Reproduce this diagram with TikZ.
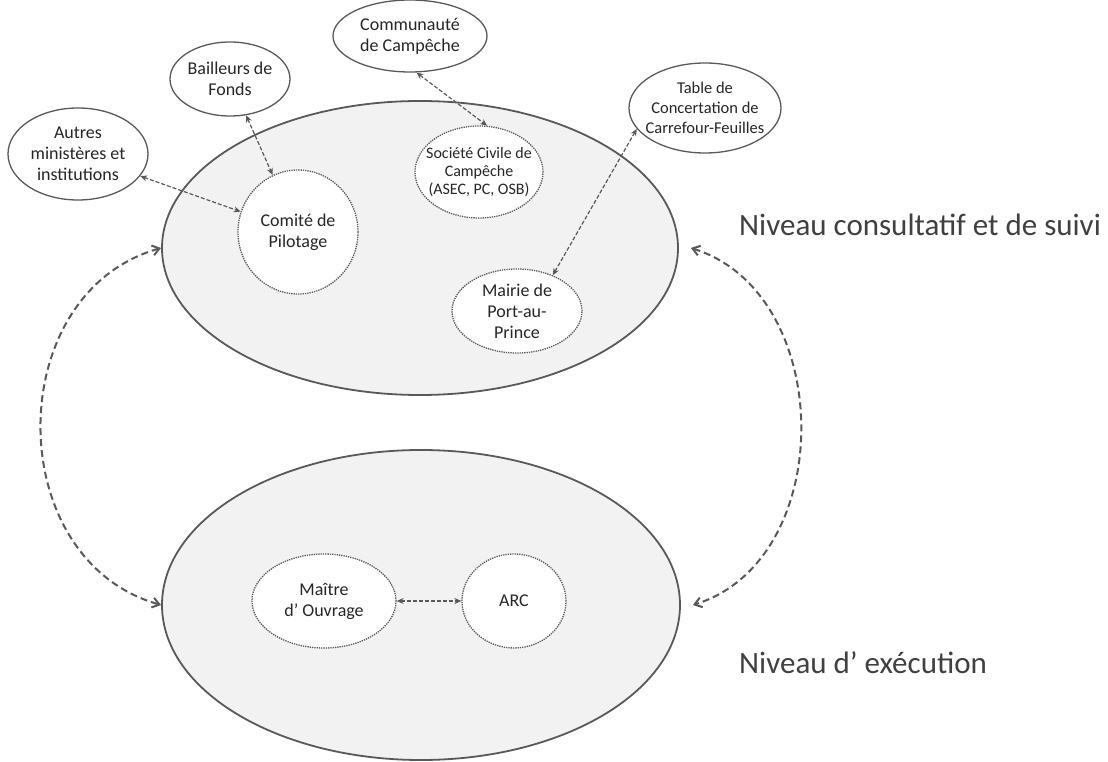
\documentclass[tikz,border=0pt]{standalone}
\usepackage{fontspec}
\setmainfont{Carlito}
\usetikzlibrary{positioning, arrows.meta, shapes.geometric}

\definecolor{edgegray}{HTML}{595959}
\definecolor{levelfill}{HTML}{F2F2F2}
\definecolor{labelgray}{HTML}{404040}

\begin{document}
\begin{tikzpicture}[
    x=1pt, y=1pt,
    level/.style={ellipse, draw=edgegray, line width=1.8pt, fill=levelfill, inner sep=0pt},
    actor/.style={ellipse, draw=edgegray, line width=1.3pt, fill=white, inner sep=0pt, align=center, text=black!85, font=\fontsize{18}{21}\selectfont},
    member/.style={ellipse, draw=edgegray, densely dotted, line width=1.3pt, fill=white, inner sep=0pt, align=center, text=black!85, font=\fontsize{18}{21}\selectfont},
    link/.style={{Stealth[length=7pt,width=6pt]}-{Stealth[length=7pt,width=6pt]}, draw=edgegray, dash pattern=on 4pt off 2pt, line width=1.2pt},
    flow/.style={{Straight Barb[length=7pt,width=10pt]}-{Straight Barb[length=7pt,width=10pt]}, draw=edgegray, dash pattern=on 7pt off 4pt, line width=2pt},
    levellabel/.style={anchor=west, inner sep=0pt, text=labelgray, font=\fontsize{31}{36}\selectfont}
]
\useasboundingbox (0,0) rectangle (1108,761);

% Two levels
\node[level, minimum width=516, minimum height=294] (suivi) at (420,513) {};
\node[level, minimum width=518, minimum height=310] (exec) at (421,156) {};

% Members of the consultative level
\node[member, minimum width=120, minimum height=124] (comite) at (298,529) {Comité de\\Pilotage};
\node[member, minimum width=128, minimum height=92, inner xsep=-10pt, font=\fontsize{16}{18}\selectfont] (societe) at (479,589) {Société Civile de\\Campêche\\(ASEC, PC, OSB)};
\node[member, minimum width=130, minimum height=84, inner ysep=-3pt] (mairie) at (517,450) {Mairie de\\Port-au-\\Prince};

% Members of the execution level
\node[member, minimum width=144, minimum height=94] (maitre) at (324,160) {Maître\\d’ Ouvrage};
\node[member, minimum width=104, minimum height=94] (arc) at (514,160) {ARC};

% Outside partners
\node[actor, minimum width=140, minimum height=92, inner ysep=-2pt] (autres) at (78,607) {Autres\\ministères et\\institutions};
\node[actor, minimum width=120, minimum height=74] (bailleurs) at (230,682) {Bailleurs de\\Fonds};
\node[actor, minimum width=154, minimum height=72] (communaute) at (410,725) {Communauté\\de Campêche};
\node[actor, minimum width=152, minimum height=90, inner xsep=-14pt, inner ysep=-3pt, font=\fontsize{16.5}{20}\selectfont] (table) at (705,653) {Table de\\Concertation de\\Carrefour-Feuilles};

% Level names
\node[levellabel] (lblsuivi) at (739,536) {Niveau consultatif et de suivi};
\node[levellabel] (lblexec) at (739,98) {Niveau d’ exécution};

% Links with partners
\draw[link] (autres) -- (comite);
\draw[link] (bailleurs) -- (comite);
\draw[link] (communaute.-80) -- (societe.80);
\draw[link] (table.197) -- (mairie.45);
\draw[link] (maitre) -- (arc);

% Links between the levels
\draw[flow] (suivi.west) .. controls +(-160,-45) and +(-160,45) .. (exec.west);
\draw[flow] ([xshift=12pt]suivi.east) .. controls +(145,-45) and +(145,45) .. ([xshift=12pt]exec.east);

\end{tikzpicture}
\end{document}
